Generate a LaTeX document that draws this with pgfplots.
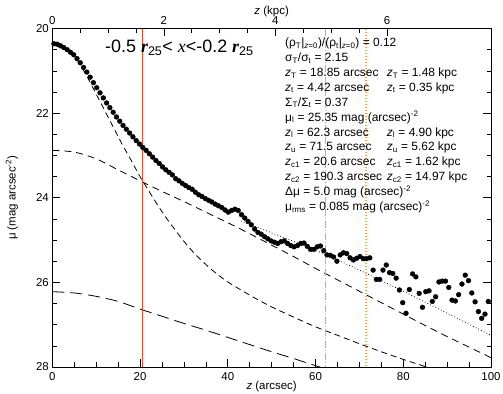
\documentclass[border=0pt]{standalone}
\usepackage{fontspec}
\setmainfont{Liberation Sans}
\newfontfamily\seriffont{Liberation Serif}
\usepackage{pgfplots}
\pgfplotsset{compat=1.18}
\definecolor{redline}{RGB}{214,82,48}
\definecolor{grayline}{RGB}{178,178,178}
\definecolor{orangeline}{RGB}{255,165,60}
\newcommand\sub[1]{\textsubscript{#1}}
\newcommand\cola[1]{\makebox[101.7bp][l]{#1}}
\begin{document}
\begin{tikzpicture}
\useasboundingbox (0,0) rectangle (503bp,394bp);
\begin{axis}[
  at={(271.65bp,196.25bp)}, anchor=center, scale only axis,
  width=438.7bp, height=338.5bp,
  xmin=0, xmax=100, ymin=20, ymax=28, y dir=reverse,
  xtick={0,20,...,100}, minor x tick num=3,
  ytick={20,22,...,28}, minor y tick num=3,
  xtick pos=left, ytick pos=both, yticklabel pos=left,
  major tick length=8bp, minor tick length=4.5bp,
  tick style={black, line width=0.6bp},
  axis line style={line width=0.8bp},
  /pgf/number format/assume math mode=true,
  tick label style={font=\fontsize{11.5}{13}\selectfont},
  xticklabel style={yshift=-2bp},
  xlabel={\textit{z} (arcsec)},
  xlabel style={at={(axis description cs:0.5,-0.057)}, anchor=center, font=\fontsize{11.5}{13}\selectfont},
  ylabel={μ (mag arcsec\textsuperscript{-2})},
  ylabel style={at={(axis description cs:-0.092,0.5)}, anchor=center, font=\fontsize{11.5}{13}\selectfont},
  clip=true,
]
% data
\addplot[only marks, mark=*, mark size=2.4bp, black] coordinates {
(0.375,20.36) (1.125,20.37) (1.875,20.41) (2.625,20.45) (3.375,20.50) (4.125,20.56) (4.875,20.62) (5.625,20.71)
(6.375,20.81) (7.125,20.92) (7.875,21.03) (8.625,21.15) (9.375,21.28) (10.125,21.40) (10.875,21.52) (11.625,21.64)
(12.375,21.76) (13.125,21.87) (13.875,21.98) (14.625,22.09) (15.375,22.19) (16.125,22.29) (16.875,22.38) (17.625,22.47)
(18.375,22.56) (19.125,22.65) (19.875,22.73) (20.625,22.81) (21.375,22.88) (22.125,22.96) (22.875,23.04) (23.625,23.12)
(24.375,23.19) (25.125,23.27) (25.875,23.34) (26.625,23.40) (27.375,23.46) (28.125,23.55) (28.875,23.60) (29.625,23.66)
(30.375,23.71) (31.125,23.76) (31.875,23.80) (32.625,23.87) (33.375,23.93) (34.125,23.97) (34.875,24.02) (35.625,24.06)
(36.375,24.10) (37.125,24.15) (37.875,24.19) (38.625,24.23) (39.375,24.29) (40.125,24.34) (40.875,24.30) (41.625,24.27)
(42.375,24.30) (43.125,24.40) (43.875,24.48) (44.625,24.56) (45.375,24.64) (46.125,24.74) (46.875,24.82) (47.625,24.86)
(48.375,24.92) (49.125,24.97) (49.875,25.02) (50.625,25.05) (51.375,25.08) (52.125,25.04) (52.875,25.02) (53.625,25.08)
(54.375,25.13) (55.125,25.16) (55.875,25.13) (56.625,25.08) (57.375,25.07) (58.125,25.15) (58.875,25.22) (59.625,25.22)
(60.375,25.16) (61.125,25.14) (61.875,25.25) (62.625,25.35) (63.375,25.36) (64.125,25.40) (64.875,25.50) (65.625,25.35)
(66.375,25.30) (67.125,25.32) (67.875,25.42) (68.625,25.47) (69.375,25.43) (70.125,25.39) (70.875,25.44) (71.625,25.44)
(72.375,25.42) (73.125,25.71) (73.875,25.93) (74.625,25.93) (75.375,25.71) (76.125,25.59) (76.875,25.77) (77.625,25.79)
(78.375,25.90) (79.125,26.18) (79.875,26.48) (80.625,26.73) (81.375,26.17) (82.125,25.80) (82.875,25.87) (83.625,26.26)
(84.375,26.59) (85.125,26.22) (85.875,26.20) (86.625,26.45) (87.375,26.34) (88.125,25.99) (88.875,25.97) (89.625,25.97)
(90.375,26.12) (91.125,26.42) (91.875,26.44) (92.625,26.29) (93.375,26.04) (94.125,25.83) (94.875,25.96) (95.625,26.25)
(96.375,26.46) (97.125,26.69) (97.875,26.85) (98.625,26.75) (99.375,26.45) (100.125,26.22)
};
% thin disc (short dashes)
\addplot[black, line width=0.8bp, dash pattern=on 6bp off 4bp, smooth] coordinates {
(0,20.38) (2,20.43) (4,20.55) (6,20.80) (8,21.15) (10,21.55) (12,21.95) (14,22.35) (16,22.75) (18,23.12)
(20,23.50) (22,23.84) (24,24.17) (26,24.48) (28,24.76) (30,25.03) (32,25.27) (34,25.48) (36,25.67) (38,25.84)
(40,25.99) (43,26.18) (46,26.36) (50,26.58) (55,26.82) (60,27.05) (65,27.25) (70,27.45) (75,27.64) (80,27.82)
(85,27.99) (86,28.02)
};
% thick disc (medium dashes)
\addplot[black, line width=0.8bp, dash pattern=on 7bp off 5bp, smooth] coordinates {
(0,22.88) (5,22.92) (10,23.08) (15,23.34) (20,23.60) (25,23.85) (30,24.09) (35,24.34) (40,24.59) (45,24.85)
(50,25.12) (55,25.39) (60,25.67) (65,25.94) (70,26.21) (75,26.48) (80,26.75) (85,27.02) (90,27.28) (95,27.53) (100,27.78)
};
% third component (long dashes)
\addplot[black, line width=0.8bp, dash pattern=on 12bp off 6bp, smooth] coordinates {
(0,26.22) (5,26.25) (10,26.33) (15,26.45) (20,26.63) (25,26.80) (30,26.97) (35,27.13) (40,27.30) (45,27.47)
(50,27.64) (55,27.80) (60,27.97) (61,28.00)
};
% total fit (dotted)
\addplot[black, line width=0.7bp, dash pattern=on 0.8bp off 2.2bp, smooth] coordinates {
(43,24.55) (47.3,24.72) (50,24.83) (55,25.03) (60,25.24) (62.3,25.35) (65,25.47) (70,25.71) (75,25.96)
(80,26.21) (85,26.47) (90,26.73) (95,26.99) (100,27.25)
};
% vertical markers
\addplot[redline, line width=1.2bp] coordinates {(20.6,20) (20.6,28)};
\addplot[grayline, line width=1bp, dash pattern=on 7bp off 2bp on 1bp off 2bp] coordinates {(62.3,20) (62.3,28)};
\addplot[orangeline, line width=1.3bp, dash pattern=on 1.3bp off 1.7bp] coordinates {(71.5,20) (71.5,28)};
% title
\node[anchor=west, inner sep=0pt, font=\fontsize{18}{20}\selectfont] at (axis cs:12.0,20.45)
  {-0.5 {\seriffont\bfseries\itshape r}\textsubscript{25}< {\seriffont\itshape x}<-0.2 {\seriffont\bfseries\itshape r}\textsubscript{25}};
% annotations
\node[anchor=north west, inner sep=0pt, font=\fontsize{12}{15}\selectfont] at (axis cs:53.04,20.17) {%
\begin{tabular}{@{}l@{}l@{}}
\multicolumn{2}{@{}l@{}}{(ρ\sub{T}|\sub{\textit{z}=0})/(ρ\sub{t}|\sub{\textit{z}=0}) = 0.12}\\
\multicolumn{2}{@{}l@{}}{σ\sub{T}/σ\sub{t} = 2.15}\\
\cola{\textit{z}\sub{T} = 18.85 arcsec} & \textit{z}\sub{T} = 1.48 kpc\\
\cola{\textit{z}\sub{t} = 4.42 arcsec} & \textit{z}\sub{t} = 0.35 kpc\\
\multicolumn{2}{@{}l@{}}{Σ\sub{T}/Σ\sub{t} = 0.37}\\
\multicolumn{2}{@{}l@{}}{μ\sub{l} = 25.35 mag (arcsec)\textsuperscript{-2}}\\
\cola{\textit{z}\sub{l} = 62.3 arcsec} & \textit{z}\sub{l} = 4.90 kpc\\
\cola{\textit{z}\sub{u} = 71.5 arcsec} & \textit{z}\sub{u} = 5.62 kpc\\
\cola{\textit{z}\sub{c1} = 20.6 arcsec} & \textit{z}\sub{c1} = 1.62 kpc\\
\cola{\textit{z}\sub{c2} = 190.3 arcsec} & \textit{z}\sub{c2} = 14.97 kpc\\
\multicolumn{2}{@{}l@{}}{Δμ = 5.0 mag (arcsec)\textsuperscript{-2}}\\
\multicolumn{2}{@{}l@{}}{μ\sub{rms} = 0.085 mag (arcsec)\textsuperscript{-2}}
\end{tabular}};
\end{axis}
\begin{axis}[
  at={(271.65bp,196.25bp)}, anchor=center, scale only axis,
  width=438.7bp, height=338.5bp,
  xmin=0, xmax=7.866, ymin=0, ymax=1,
  axis x line*=top, axis y line=none,
  xtick={0,2,4,6}, minor x tick num=3,
  major tick length=8bp, minor tick length=4.5bp,
  tick style={black, line width=0.6bp},
  axis line style={line width=0.8bp, -},
  /pgf/number format/assume math mode=true,
  tick label style={font=\fontsize{11.5}{13}\selectfont},
  xlabel={\textit{z} (kpc)},
  xlabel style={at={(axis description cs:0.5,1.05)}, anchor=center, font=\fontsize{11.5}{13}\selectfont},
]
\addplot[draw=none] coordinates {(0,0) (1,1)};
\end{axis}
\end{tikzpicture}
\end{document}
